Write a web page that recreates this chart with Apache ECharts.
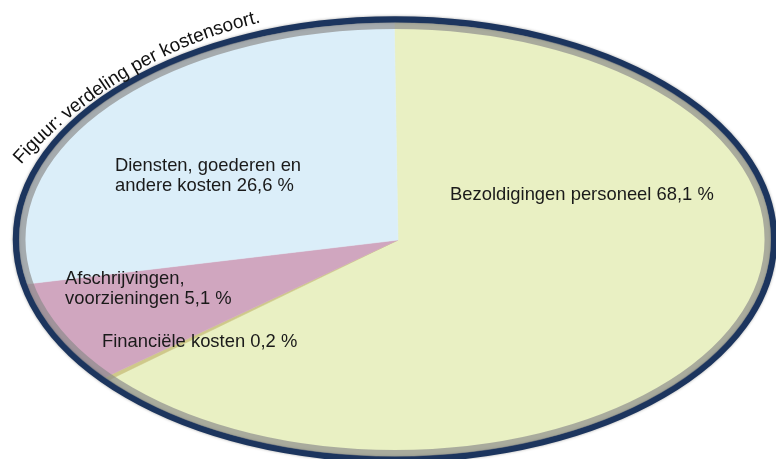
<!DOCTYPE html>
<html>
<head>
<meta charset="utf-8">
<script src="https://cdn.jsdelivr.net/npm/echarts@6/dist/echarts.min.js"></script>
<style>
  html, body { margin: 0; padding: 0; background: #fff; }
  #chart { width: 776px; height: 459px; }
</style>
</head>
<body>
<div id="chart"></div>
<script>
// data
var names = ['Bezoldigingen personeel', 'Financiële kosten', 'Afschrijvingen,\nvoorzieningen', 'Diensten, goederen en\nandere kosten'];
var values = [68.1, 0.2, 5.1, 26.6];
var colors = ['#e9f0c3', '#cfc98a', '#d0a6bf', '#dbeef9'];
var title = 'Figuur: verdeling per kostensoort.';

// layout
var labelPos = [[450, 195], [102, 342], [65, 269], [115, 156]];
var cx = 395, cy = 239.5, rx = 376, ry = 217;   // ellipse holding the slices
var ax = 398, ay = 240;                         // point where the slices meet
var startDeg = -1;                              // clockwise from 12 o'clock
var FONT = '"Liberation Sans", Arial, sans-serif';

var total = values.reduce(function (a, b) { return a + b; }, 0);

// where a ray from the apex leaves the ellipse
function rayHit(deg) {
  var t = deg * Math.PI / 180, dx = Math.sin(t), dy = -Math.cos(t);
  var ox = ax - cx, oy = ay - cy;
  var A = dx * dx / (rx * rx) + dy * dy / (ry * ry);
  var B = 2 * (ox * dx / (rx * rx) + oy * dy / (ry * ry));
  var C = ox * ox / (rx * rx) + oy * oy / (ry * ry) - 1;
  var s = (-B + Math.sqrt(B * B - 4 * A * C)) / (2 * A);
  return [ax + s * dx, ay + s * dy];
}

function fmt(v) {
  return v.toFixed(1).replace('.', ',') + ' %';
}

var graphics = [];

// rim: navy outer band, translucent grey inner band
graphics.push({
  type: 'ellipse', z: 10, silent: true,
  shape: { cx: cx, cy: cy, rx: 379, ry: 220 },
  style: { fill: null, stroke: '#1c355e', lineWidth: 6.5, shadowBlur: 3, shadowColor: 'rgba(0,0,0,0.35)' }
});
graphics.push({
  type: 'ellipse', z: 11, silent: true,
  shape: { cx: cx, cy: cy, rx: 372.8, ry: 213.8 },
  style: { fill: null, stroke: 'rgba(139,139,139,0.68)', lineWidth: 6.5 }
});

// slice labels
names.forEach(function (n, i) {
  graphics.push({
    type: 'text', z: 20, x: labelPos[i][0], y: labelPos[i][1],
    style: {
      text: n + ' ' + fmt(values[i]),
      font: '18.4px ' + FONT, fill: '#1a1a1a',
      lineHeight: 20,
      verticalAlign: i === 0 || i === 1 ? 'middle' : 'top'
    }
  });
});

// title bent along an arc above the rim
(function () {
  var ctx = document.createElement('canvas').getContext('2d');
  var size = 19;
  ctx.font = size + 'px ' + FONT;
  var ocx = 367, ocy = 474, R = 463.5, phi0 = -48.2;
  var s = 0;
  for (var k = 0; k < title.length; k++) {
    var ch = title[k];
    var w = ctx.measureText(ch).width;
    var phi = (phi0 + (s + w / 2) / R * 180 / Math.PI) * Math.PI / 180;
    var r = R + size * 0.3;
    graphics.push({
      type: 'text', z: 20,
      x: ocx + r * Math.sin(phi), y: ocy - r * Math.cos(phi),
      rotation: -phi,
      style: { text: ch, font: size + 'px ' + FONT, fill: '#111', align: 'center', verticalAlign: 'middle' }
    });
    s += w;
  }
})();

var chart = echarts.init(document.getElementById('chart'));
chart.setOption({
  animation: false,
  backgroundColor: '#fff',
  graphic: graphics,
  series: [{
    type: 'custom',
    coordinateSystem: 'none',
    z: 2,
    data: values.map(function (v, i) { return { name: names[i], value: v }; }),
    renderItem: function (params, api) {
      var i = params.dataIndex;
      var before = 0;
      for (var k = 0; k < i; k++) before += values[k];
      var a0 = startDeg + before / total * 360;
      var a1 = a0 + api.value(0) / total * 360;
      var pts = [[ax, ay]];
      var n = Math.max(2, Math.ceil((a1 - a0) / 0.5));
      for (var j = 0; j <= n; j++) pts.push(rayHit(a0 + (a1 - a0) * j / n));
      return {
        type: 'polygon',
        shape: { points: pts },
        style: { fill: colors[i], stroke: colors[i], lineWidth: 0.6 }
      };
    }
  }]
});
</script>
</body>
</html>
